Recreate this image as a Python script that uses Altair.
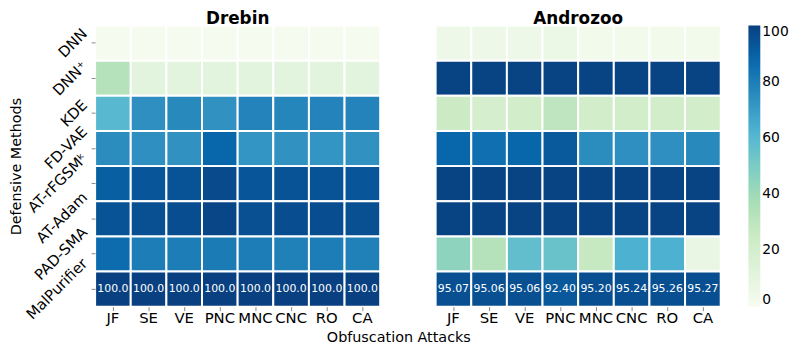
import altair as alt
import pandas as pd

methods = ["DNN", "DNN⁺", "KDE", "FD-VAE", "AT-rFGSMᵏ", "AT-Adam", "PAD-SMA", "MalPurifier"]
attacks = ["JF", "SE", "VE", "PNC", "MNC", "CNC", "RO", "CA"]

drebin = [
    [1, 1, 1, 1, 1, 1, 1, 1],
    [33, 11, 11, 11, 11, 11, 11, 11],
    [60, 74, 76, 73, 78, 77, 78, 78],
    [75, 74, 73, 88, 72, 73, 72, 73],
    [90, 93, 94, 97, 93, 94, 94, 93],
    [94, 95, 96, 98, 95, 96, 96, 95],
    [86, 80, 80, 81, 80, 79, 80, 79],
    [100.0, 100.0, 100.0, 100.0, 100.0, 100.0, 100.0, 100.0],
]
androzoo = [
    [5, 5, 5, 6, 3, 3, 3, 3],
    [99, 99, 99, 99, 99, 99, 99, 99],
    [25, 20, 22, 30, 22, 22, 22, 22],
    [88, 85, 88, 92, 75, 74, 74, 76],
    [99, 99, 99, 99, 99, 99, 99, 99],
    [99, 99, 99, 99, 99, 99, 99, 99],
    [45, 33, 57, 55, 27, 63, 63, 8],
    [95.07, 95.06, 95.06, 92.40, 95.20, 95.24, 95.26, 95.27],
]
drebin_labels = ["100.0"] * 8
androzoo_labels = ["95.07", "95.06", "95.06", "92.40", "95.20", "95.24", "95.26", "95.27"]

gnbu_stops = [0, 12.5, 25, 37.5, 50, 62.5, 75, 87.5, 100]
gnbu_colors = ["#f7fcf0", "#e0f3db", "#ccebc5", "#a8ddb5", "#7bccc4",
               "#4eb3d3", "#2b8cbe", "#0868ac", "#084081"]

FONT = "DejaVu Sans"
PLOT_H = 284
LABEL_FS = 15

# approximate DejaVu Sans advance widths (em) to centre rotated labels on ticks
_w = {"D": .770, "N": .748, "K": .656, "E": .632, "F": .575, "V": .684, "A": .684,
      "T": .611, "G": .775, "S": .635, "M": .863, "P": .603, "-": .361, "r": .411,
      "d": .635, "a": .613, "m": .974, "l": .278, "u": .634, "i": .278, "f": .352,
      "e": .615, "ᵏ": .40, "⁺": .50}


def label_shift(s):
    width = sum(_w.get(c, .6) for c in s) * LABEL_FS
    return -0.354 * width


shift_expr = " : ".join(
    f"datum.value === '{m}' ? {label_shift(m):.1f}" for m in methods
) + " : 0"


def make_df(mat, labels):
    rows = []
    for i, m in enumerate(methods):
        for j, a in enumerate(attacks):
            rows.append({
                "method": m, "attack": a, "value": mat[i][j],
                "label": labels[j] if m == "MalPurifier" else "",
            })
    return pd.DataFrame(rows)


color = alt.Color(
    "value:Q",
    scale=alt.Scale(domain=gnbu_stops, range=gnbu_colors, interpolate="rgb"),
    legend=alt.Legend(title=None, values=[0, 20, 40, 60, 80, 100],
                      gradientLength=PLOT_H, gradientThickness=12,
                      labelFontSize=14, labelFont=FONT, offset=27,
                      gradientStrokeWidth=0, direction="vertical", orient="right"),
)


def panel(mat, labels, title, show_y):
    df = make_df(mat, labels)
    x = alt.X("attack:N", sort=attacks, title=None,
              scale=alt.Scale(paddingInner=0, paddingOuter=0),
              axis=alt.Axis(labelAngle=0, labelFontSize=LABEL_FS, labelFont=FONT,
                            domain=False, grid=False, ticks=True, tickSize=4,
                            labelPadding=0))
    if show_y:
        yaxis = alt.Axis(labelAngle=-45, labelAlign="right", labelBaseline="middle",
                         labelFontSize=LABEL_FS, labelFont=FONT, domain=False,
                         grid=False, ticks=True, tickSize=4,
                         title="Defensive Methods", titleFontSize=14.5,
                         titleFont=FONT, titleFontWeight="normal",
                         labelPadding=7, titlePadding=0,
                         labelOffset={"condition": {"test": "false", "value": 0},
                                      "expr": shift_expr})
    else:
        yaxis = None
    y = alt.Y("method:N", sort=methods,
              scale=alt.Scale(paddingInner=0, paddingOuter=0), axis=yaxis)
    rect = alt.Chart(df).mark_rect(stroke="white", strokeWidth=2).encode(
        x=x, y=y, color=color)
    text = alt.Chart(df).mark_text(color="white", fontSize=11, font=FONT).encode(
        x=x, y=y, text="label:N")
    return alt.layer(rect, text).properties(
        width=288, height=PLOT_H,
        title=alt.TitleParams(title, fontSize=17, font=FONT, fontWeight="bold",
                              offset=-3),
    )


chart = alt.hconcat(
    panel(drebin, drebin_labels, "Drebin", True),
    panel(androzoo, androzoo_labels, "Androzoo", False),
    spacing=54,
).properties(
    padding={"left": 0, "top": 0, "right": 0, "bottom": 0},
    title=alt.TitleParams("Obfuscation Attacks", orient="bottom", anchor="middle",
                          fontSize=14.5, font=FONT, fontWeight="normal",
                          dx=0, offset=6),
).configure(font=FONT).configure_view(stroke=None)

chart.save("out.html", embed_options={"renderer": "svg", "actions": False})
